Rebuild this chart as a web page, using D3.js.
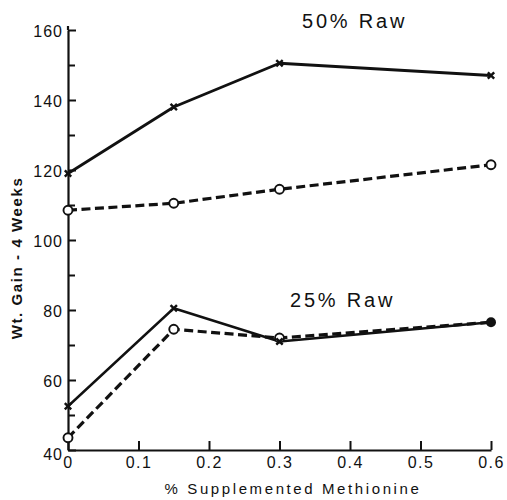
<!DOCTYPE html>
<html>
<head>
<meta charset="utf-8">
<script src="https://cdn.jsdelivr.net/npm/d3@7"></script>
<style>
  html, body { margin: 0; padding: 0; background: #fff; }
  svg { display: block; }
  text { font-family: "Liberation Sans", Arial, sans-serif; fill: #111; }
</style>
</head>
<body>
<svg id="chart" width="507" height="500"></svg>
<script>
// % supplemented methionine at each feeding level
const doses = [0, 0.15, 0.3, 0.6];
// weight gain over 4 weeks
const raw50Cross  = [119, 138, 150.5, 147];
const raw50Circle = [108.5, 110.5, 114.5, 121.5];
const raw25Cross  = [52.5, 80.5, 71, 76.5];
const raw25Circle = [43.5, 74.5, 72, 76.5];

const xTicks = [0, 0.1, 0.2, 0.3, 0.4, 0.5, 0.6];
const xTickLabels = ["0", "0.1", "0.2", "0.3", "0.4", "0.5", "0.6"];
const yTicks = [40, 60, 80, 100, 120, 140, 160];
const yMinorTicks = [50, 70, 90, 110, 130, 150];

const groupTitles = ["50% Raw", "25% Raw"];
const xTitle = "% Supplemented Methionine";
const yTitle = "Wt. Gain - 4 Weeks";

const svg = d3.select("#chart");
const ink = "#111";

const x = d3.scaleLinear().domain([0, 0.6]).range([68, 491]);
const y = d3.scaleLinear().domain([40, 160]).range([450, 30]);

// y axis: ticks point inward, labels on the left
const yAxis = svg.append("g").attr("transform", `translate(${x(0)},0)`)
  .call(d3.axisLeft(y).tickValues(yTicks).tickSize(-8).tickSizeOuter(0).tickPadding(5));
svg.append("g").attr("transform", `translate(${x(0)},0)`)
  .call(d3.axisLeft(y).tickValues(yMinorTicks).tickSize(-7).tickFormat("").tickSizeOuter(0))
  .select(".domain").remove();

// x axis: ticks point upward
const xAxis = svg.append("g").attr("transform", `translate(0,${y(40)})`)
  .call(d3.axisBottom(x).tickValues(xTicks).tickSize(-9).tickSizeOuter(0)
    .tickFormat((d, i) => xTickLabels[i]));

svg.selectAll(".domain").attr("stroke", ink).attr("stroke-width", 2.2);
svg.selectAll(".tick line").attr("stroke", ink).attr("stroke-width", 2);

yAxis.selectAll("text")
  .attr("font-size", 16).attr("letter-spacing", 1).attr("fill", ink)
  .attr("dy", "0.38em")
  .style("font-family", "'Liberation Sans', Arial, sans-serif");
yAxis.selectAll(".tick").filter(d => d === 40).select("text").attr("dy", "0.6em");

xAxis.selectAll("text")
  .attr("font-size", 16).attr("letter-spacing", 1.5).attr("fill", ink)
  .attr("y", 18).attr("dy", 0)
  .style("font-family", "'Liberation Sans', Arial, sans-serif");

// extend the y axis line slightly above the top tick
svg.append("line")
  .attr("x1", x(0)).attr("x2", x(0))
  .attr("y1", y(160)).attr("y2", y(160) - 4)
  .attr("stroke", ink).attr("stroke-width", 2.2);

const line = d3.line().x((d, i) => x(doses[i])).y(d => y(d));

function drawSeries(values, dashed, width) {
  svg.append("path")
    .datum(values)
    .attr("d", line)
    .attr("fill", "none")
    .attr("stroke", ink)
    .attr("stroke-width", width)
    .attr("stroke-dasharray", dashed ? "9,4.5" : null)
    .attr("stroke-linejoin", "round");
}

function drawCrosses(values, skip) {
  const s = 3.2;
  values.forEach((v, i) => {
    if (skip[i]) return;
    const cx = x(doses[i]), cy = y(v);
    svg.append("path")
      .attr("d", `M${cx - s},${cy - s}L${cx + s},${cy + s}M${cx + s},${cy - s}L${cx - s},${cy + s}`)
      .attr("stroke", ink).attr("stroke-width", 2.4).attr("fill", "none");
  });
}

function drawCircles(values, skip) {
  values.forEach((v, i) => {
    if (skip[i]) return;
    svg.append("circle")
      .attr("cx", x(doses[i])).attr("cy", y(v)).attr("r", 4.5)
      .attr("fill", "#fff").attr("stroke", ink).attr("stroke-width", 1.9);
  });
}

// where both diets coincide the point is drawn as a solid dot
function drawGroup(cross, circle, solidWidth, dashWidth) {
  const same = cross.map((v, i) => v === circle[i]);
  drawSeries(circle, true, dashWidth);
  drawSeries(cross, false, solidWidth);
  drawCircles(circle, same);
  drawCrosses(cross, same);
  same.forEach((s, i) => {
    if (!s) return;
    svg.append("circle")
      .attr("cx", x(doses[i])).attr("cy", y(cross[i])).attr("r", 5)
      .attr("fill", ink);
  });
}

drawGroup(raw50Cross, raw50Circle, 2.8, 3.2);
drawGroup(raw25Cross, raw25Circle, 2.4, 3.2);

// group titles
svg.append("text").text(groupTitles[0])
  .attr("x", 302).attr("y", 28)
  .attr("font-size", 20).attr("letter-spacing", 2.8);
svg.append("text").text(groupTitles[1])
  .attr("x", 290).attr("y", 307)
  .attr("font-size", 20).attr("letter-spacing", 2.8);

// axis titles
svg.append("text").text(xTitle)
  .attr("x", 293).attr("y", 494).attr("text-anchor", "middle")
  .attr("font-size", 15).attr("letter-spacing", 2.6);
svg.append("text").text(yTitle)
  .attr("transform", "translate(22,258) rotate(-90)")
  .attr("text-anchor", "middle")
  .attr("font-size", 15).attr("font-weight", "bold").attr("letter-spacing", 1.6);
</script>
</body>
</html>
